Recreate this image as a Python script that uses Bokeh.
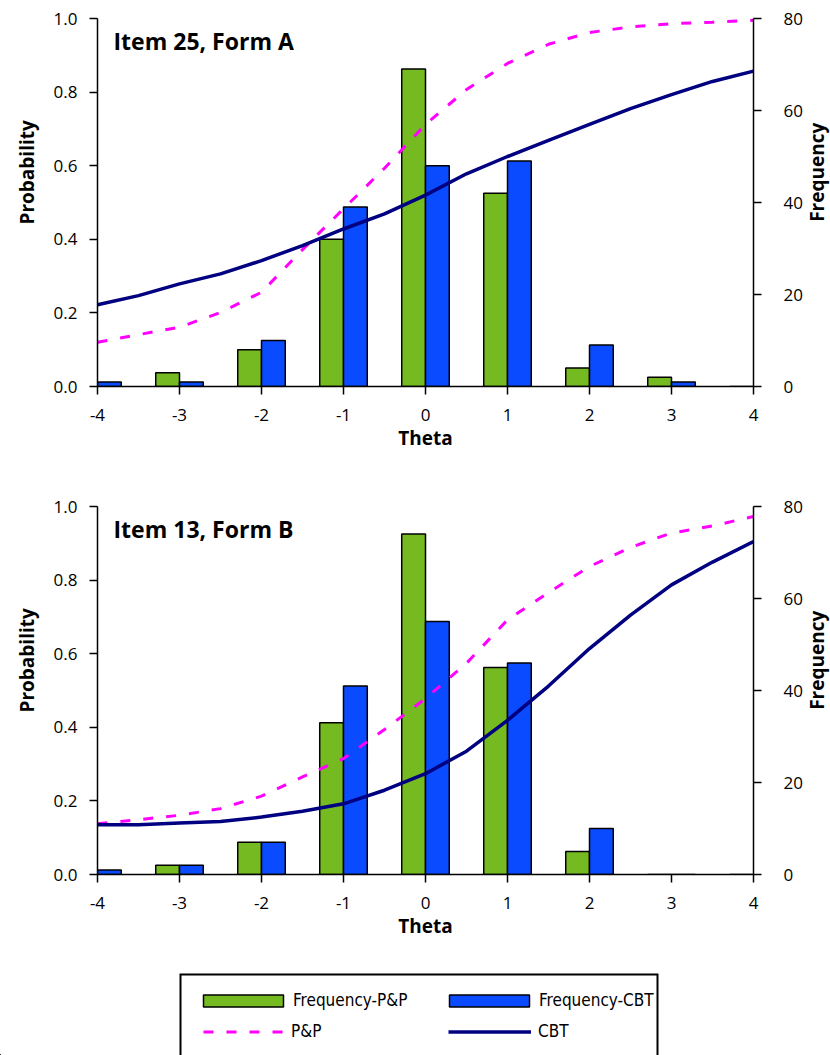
from math import pi
from bokeh.plotting import figure
from bokeh.models import (Range1d, LinearAxis, FixedTicker, Label, Legend, LegendItem,
                          NumeralTickFormatter, ColumnDataSource)
from bokeh.transform import dodge
from bokeh.layouts import column, row
from bokeh.embed import file_html
from bokeh.resources import INLINE

# ---------------- data ----------------
theta_bins = [-4, -3, -2, -1, 0, 1, 2, 3, 4]
freq_pp_a = [0, 3, 8, 32, 69, 42, 4, 2, 0]
freq_cbt_a = [1, 1, 10, 39, 48, 49, 9, 1, 0]
freq_pp_b = [0, 2, 7, 33, 74, 45, 5, 0, 0]
freq_cbt_b = [1, 2, 7, 41, 55, 46, 10, 0, 0]

theta_curve = [-4, -3.5, -3, -2.5, -2, -1.5, -1, -0.5, 0, 0.5, 1, 1.5, 2, 2.5, 3, 3.5, 4]
prob_pp_a = [0.120, 0.141, 0.161, 0.201, 0.256, 0.372, 0.483, 0.593, 0.712, 0.807, 0.878,
             0.930, 0.962, 0.977, 0.986, 0.990, 0.995]
prob_cbt_a = [0.222, 0.247, 0.279, 0.306, 0.342, 0.383, 0.428, 0.469, 0.520, 0.578, 0.625,
              0.669, 0.712, 0.755, 0.793, 0.829, 0.857]
prob_pp_b = [0.138, 0.149, 0.161, 0.179, 0.213, 0.265, 0.315, 0.394, 0.478, 0.574, 0.692,
             0.766, 0.837, 0.889, 0.928, 0.947, 0.973]
prob_cbt_b = [0.135, 0.135, 0.140, 0.144, 0.156, 0.172, 0.192, 0.229, 0.274, 0.335, 0.419,
              0.512, 0.614, 0.705, 0.787, 0.849, 0.905]

prob_ticks = [0, 0.2, 0.4, 0.6, 0.8, 1.0]
freq_ticks = [0, 20, 40, 60, 80]

titles = ["Item 25, Form A", "Item 13, Form B"]
x_title = "Theta"
y_title_left = "Probability"
y_title_right = "Frequency"
legend_labels = ["Frequency-P&P", "Frequency-CBT", "P&P", "CBT"]

# ---------------- style ----------------
GREEN = "#75BA20"
BLUE = "#0A4BFF"
NAVY = "#000080"
MAGENTA = "#FF00FF"
FONT = "Open Sans"
LEG_FONT = "Liberation Sans Narrow, DejaVu Sans Condensed, sans-serif"
BAR_W = 0.29
DASH = "10 13"

WL, WP, WR = 45, 760, 25      # label strip / main plot / label strip widths


def style_axis(ax, standoff):
    ax.axis_line_color = "black"
    ax.axis_line_width = 1.5
    ax.major_tick_line_color = "black"
    ax.major_tick_line_width = 1.5
    ax.major_tick_out = 8
    ax.major_tick_in = 0
    ax.minor_tick_out = 0
    ax.minor_tick_in = 0
    ax.major_label_text_font = FONT
    ax.major_label_text_font_size = "17px"
    ax.major_label_text_color = "black"
    ax.major_label_standoff = standoff


def strip(height, top, bottom, x0, width, text, xc):
    s = figure(width=width, height=height, output_backend="svg", toolbar_location=None,
               x_axis_type=None, y_axis_type=None,
               x_range=Range1d(x0, x0 + width), y_range=Range1d(0, 1),
               min_border_left=0, min_border_right=0,
               min_border_top=top, min_border_bottom=bottom)
    s.outline_line_color = None
    s.xgrid.visible = False
    s.ygrid.visible = False
    s.add_layout(Label(x=xc, y=0.582, text=text, text_font=FONT, text_font_style="bold",
                       text_font_size="19px", text_color="black", angle=pi / 2,
                       text_align="center", text_baseline="middle"))
    return s


def make_panel(title, fpp, fcbt, ppp, pcbt, height, top, bottom):
    p = figure(width=WP, height=height, x_range=Range1d(-4, 4), y_range=Range1d(0, 1),
               output_backend="svg", toolbar_location=None,
               min_border_left=52, min_border_right=52, min_border_top=top,
               min_border_bottom=bottom)
    p.extra_y_ranges = {"freq": Range1d(0, 80)}
    p.outline_line_color = None
    p.xgrid.visible = False
    p.ygrid.visible = False

    src = ColumnDataSource(dict(theta=theta_bins, pp=fpp, cbt=fcbt))
    p.vbar(x=dodge("theta", -BAR_W / 2, range=p.x_range), top="pp", width=BAR_W, source=src,
           y_range_name="freq", fill_color=GREEN, line_color="black", line_width=1.5)
    p.vbar(x=dodge("theta", BAR_W / 2, range=p.x_range), top="cbt", width=BAR_W, source=src,
           y_range_name="freq", fill_color=BLUE, line_color="black", line_width=1.5)

    p.line(theta_curve, ppp, line_color=MAGENTA, line_width=3, line_dash=DASH)
    p.line(theta_curve, pcbt, line_color=NAVY, line_width=3.5)

    xa = p.xaxis[0]
    style_axis(xa, 14)
    xa.ticker = FixedTicker(ticks=theta_bins)
    xa.major_label_overrides = {t: str(t) for t in theta_bins}
    xa.axis_label = x_title
    xa.axis_label_text_font = FONT
    xa.axis_label_text_font_style = "bold"
    xa.axis_label_text_font_size = "19px"
    xa.axis_label_text_color = "black"
    xa.axis_label_standoff = 1

    ya = p.yaxis[0]
    style_axis(ya, 12)
    ya.ticker = FixedTicker(ticks=prob_ticks)
    ya.formatter = NumeralTickFormatter(format="0.0")

    ra = LinearAxis(y_range_name="freq", ticker=FixedTicker(ticks=freq_ticks))
    style_axis(ra, 22)
    p.add_layout(ra, "right")

    p.add_layout(Label(x=16, y=346, x_units="screen", y_units="screen", text=title,
                       text_font=FONT, text_font_style="bold", text_font_size="23px",
                       text_color="black", text_align="left", text_baseline="alphabetic"))

    left = strip(height, top, bottom, 0, WL, y_title_left, 26)
    right = strip(height, top, bottom, WL + WP, WR, y_title_right, 816)
    return row(left, p, right, spacing=0)


row1 = make_panel(titles[0], freq_pp_a, freq_cbt_a, prob_pp_a, prob_cbt_a, 496, 18, 110)
row2 = make_panel(titles[1], freq_pp_b, freq_cbt_b, prob_pp_b, prob_cbt_b, 458, 10, 80)

# ---------------- legend panel ----------------
LH = 101
lf = figure(width=830, height=LH, output_backend="svg", toolbar_location=None,
            x_axis_type=None, y_axis_type=None, x_range=Range1d(0, 830),
            y_range=Range1d(0, LH), min_border_left=0,
            min_border_right=0, min_border_top=0, min_border_bottom=0)
lf.outline_line_color = None
lf.xgrid.visible = False
lf.ygrid.visible = False
lf.extra_x_ranges = {"off": Range1d(100, 101)}
lf.extra_y_ranges = {"off": Range1d(100, 101)}

# legend frame: three sides only, its bottom edge runs past the page as in the original
lf.line(x=[180, 180, 657, 657], y=[-30, LH - 20, LH - 20, -30], line_color="black",
        line_width=2, line_join="miter")

# legend proxies (kept on an off-screen range)
lsrc = ColumnDataSource(dict(theta=theta_bins, pp=freq_pp_b, cbt=freq_cbt_b))
off = dict(x_range_name="off", y_range_name="off")
r_fpp = lf.vbar(x="theta", top="pp", width=BAR_W, source=lsrc, fill_color=GREEN,
                line_color="black", line_width=1.5, **off)
r_fcbt = lf.vbar(x="theta", top="cbt", width=BAR_W, source=lsrc, fill_color=BLUE,
                 line_color="black", line_width=1.5, **off)
r_pp = lf.line(theta_curve, prob_pp_b, line_color=MAGENTA, line_width=3, line_dash=DASH,
               **off)
r_cbt = lf.line(theta_curve, prob_cbt_b, line_color=NAVY, line_width=3.5, **off)


def one_legend(label, rend, x, vy, gw, standoff):
    return Legend(items=[LegendItem(label=label, renderers=[rend])], location=(x, vy),
                  orientation="vertical", padding=0, margin=0, spacing=0,
                  glyph_width=gw, glyph_height=15, label_height=15,
                  label_standoff=standoff, border_line_color=None,
                  background_fill_alpha=0, label_text_font=LEG_FONT,
                  label_text_font_size="17px", label_text_color="black")


lf.add_layout(one_legend(legend_labels[0], r_fpp, 193, 45, 100, 0), "center")
lf.add_layout(one_legend(legend_labels[1], r_fcbt, 439, 45, 100, 0), "center")
lf.add_layout(one_legend(legend_labels[2], r_pp, 203, 14, 80, 8), "center")
lf.add_layout(one_legend(legend_labels[3], r_cbt, 448, 14, 83, 7), "center")

layout = column(row1, row2, lf, spacing=0)
open("out.html", "w").write(file_html(layout, INLINE))
